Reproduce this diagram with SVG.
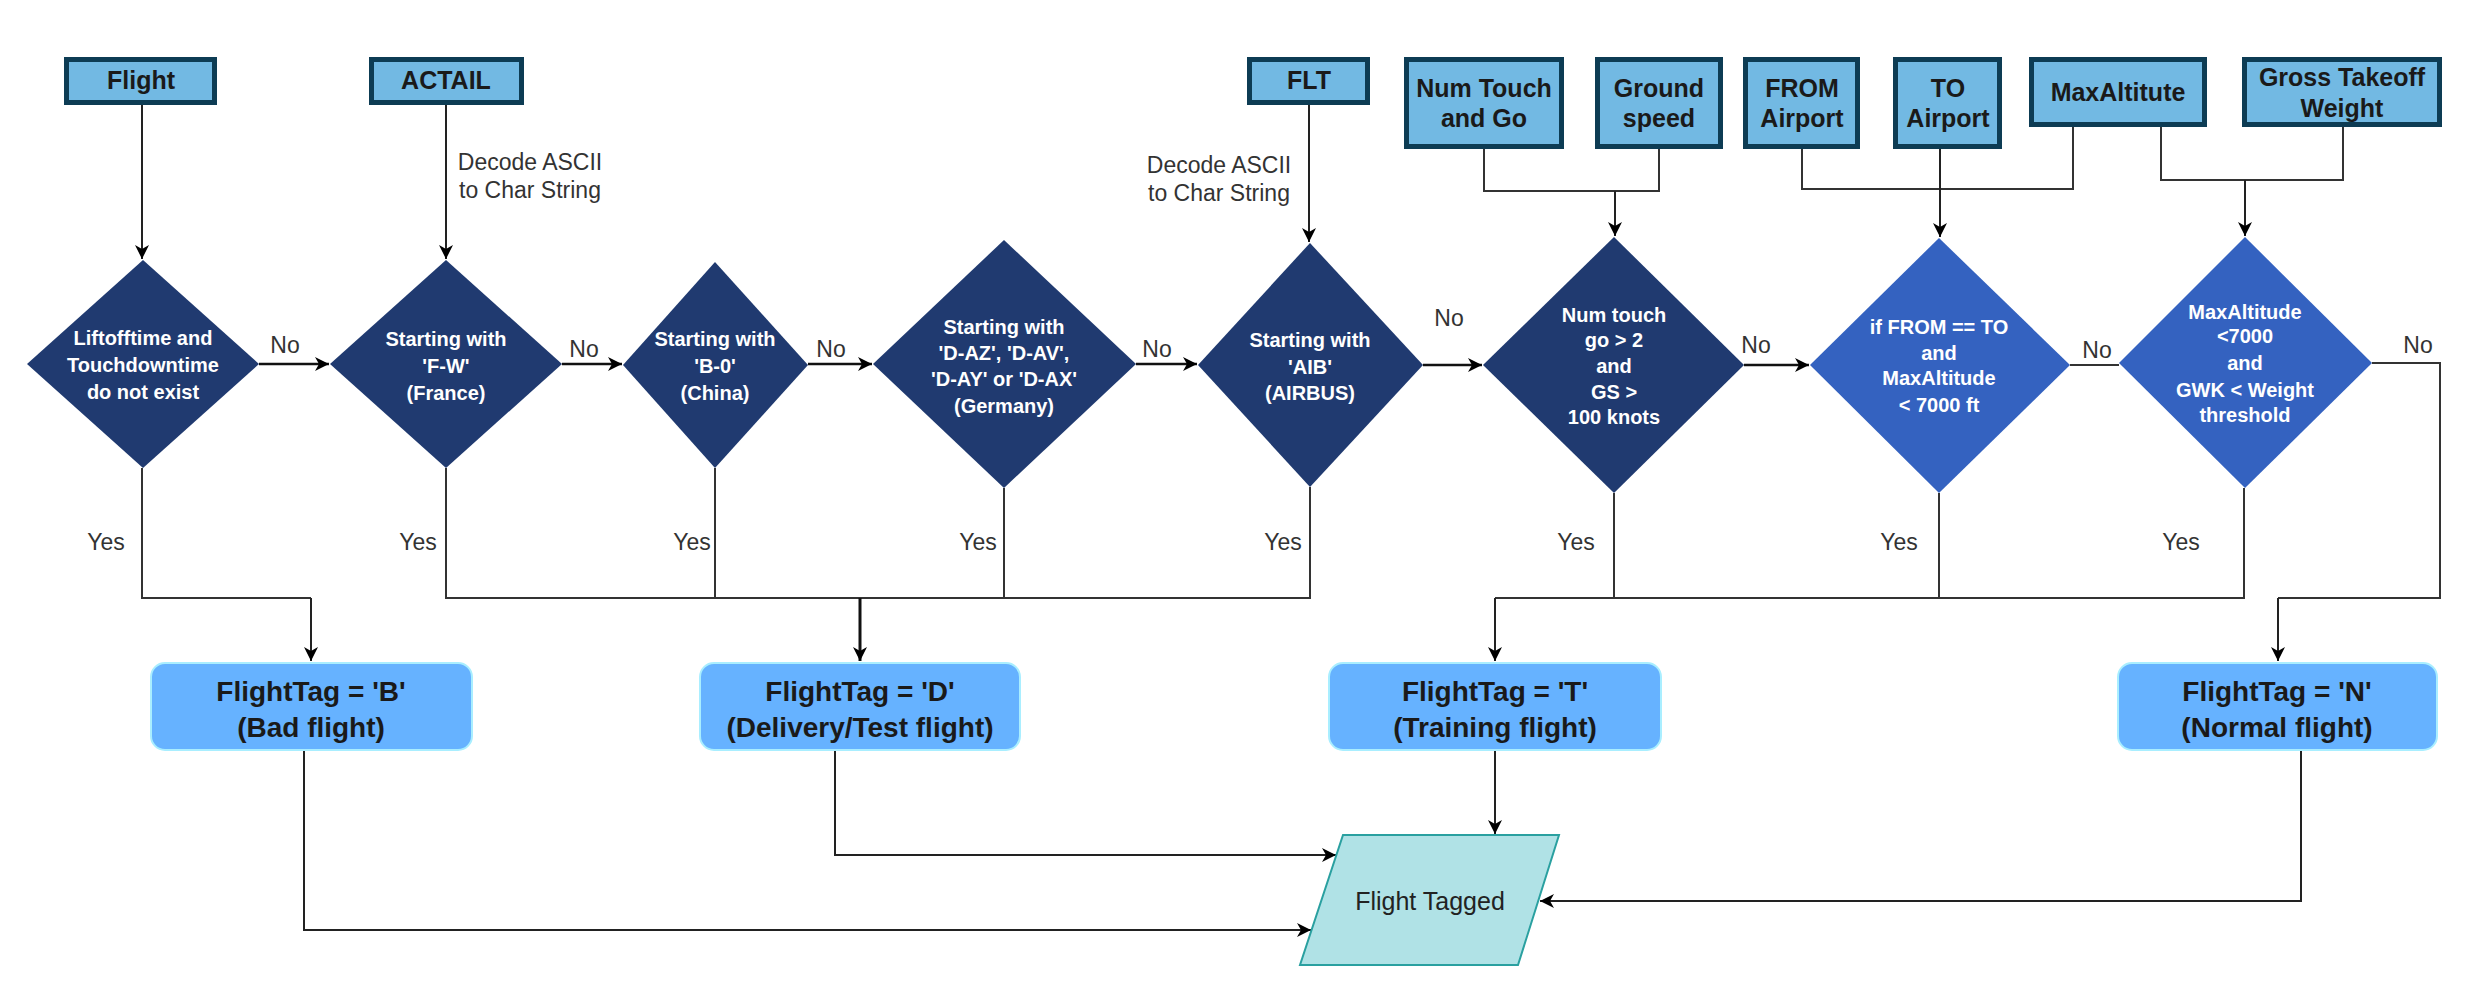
<svg xmlns="http://www.w3.org/2000/svg" width="2482" height="992" viewBox="0 0 2482 992">
<defs>
<marker id="arr" markerUnits="userSpaceOnUse" markerWidth="16" markerHeight="14" refX="14" refY="7" orient="auto">
<path d="M0,0 L14,7 L0,14 L4,7 z" fill="#000"/>
</marker>
<style>
.in rect{fill:#72b9e3;stroke:#0d3c54;stroke-width:5}
.in text{font-family:"Liberation Sans",Arial,sans-serif;font-weight:bold;font-size:25px;fill:#1a1a1a;text-anchor:middle}
.dk polygon{fill:#203a70}
.lt polygon{fill:#3462c0}
.dm text{font-family:"Liberation Sans",Arial,sans-serif;font-weight:bold;font-size:20px;fill:#ffffff;text-anchor:middle}
.out rect{fill:#66b2ff;stroke:#a9eeff;stroke-width:2}
.out text{font-family:"Liberation Sans",Arial,sans-serif;font-weight:bold;font-size:28px;fill:#1a1a1a;text-anchor:middle}
.lbl{font-family:"Liberation Sans",Arial,sans-serif;font-size:23px;fill:#333333;text-anchor:middle}
.c{fill:none;stroke:#333333;stroke-width:2}
.ca{fill:none;stroke:#222222;stroke-width:2;marker-end:url(#arr)}
.ch{fill:none;stroke:#111111;stroke-width:2.5;marker-end:url(#arr)}
.cn{fill:none;stroke:#111111;stroke-width:3;marker-end:url(#arr)}
.pg polygon{fill:#b0e2e6;stroke:#2aa0a0;stroke-width:2}
.pg text{font-family:"Liberation Sans",Arial,sans-serif;font-size:25px;fill:#222222;text-anchor:middle}
</style>
</defs>
<rect x="0" y="0" width="2482" height="992" fill="#ffffff"/>

<g id="connectors">
<path class="ca" d="M142,105 V259"/>
<path class="ca" d="M446,105 V259"/>
<path class="ca" d="M1309,105 V242"/>
<path class="c" d="M1484,149 V191 H1659 V149"/>
<path class="ca" d="M1615,191 V236"/>
<path class="c" d="M1802,149 V189 H2073 V127"/>
<path class="ca" d="M1940,149 V237"/>
<path class="c" d="M2161,127 V180 H2343 V127"/>
<path class="ca" d="M2245,180 V236"/>
<path class="ch" d="M259,364 H329"/>
<path class="ch" d="M562,364 H622"/>
<path class="ch" d="M808,364 H872"/>
<path class="ch" d="M1136,364 H1197"/>
<path class="ch" d="M1423,365 H1482"/>
<path class="ch" d="M1744,365 H1809"/>
<path class="c" d="M2070,365 H2119"/>
<path class="c" d="M2372,363 H2440 V598 H2278"/>
<path class="ca" d="M2278,598 V661"/>
<path class="c" d="M142,468 V598 H311"/>
<path class="ca" d="M311,598 V661"/>
<path class="c" d="M446,468 V598 H1310 V487"/>
<path class="c" d="M715,468 V598"/>
<path class="c" d="M1004,488 V598"/>
<path class="cn" d="M860,598 V661"/>
<path class="c" d="M1614,493 V598"/>
<path class="c" d="M1495,598 H2244 V488"/>
<path class="c" d="M1939,493 V598"/>
<path class="ca" d="M1495,598 V661"/>
<path class="ca" d="M304,750 V930 H1311"/>
<path class="ca" d="M835,750 V855 H1336"/>
<path class="ca" d="M1495,750 V834"/>
<path class="ca" d="M2301,750 V901 H1540"/>
</g>

<g id="labels">
<text class="lbl" x="530" y="170">Decode ASCII</text>
<text class="lbl" x="530" y="198">to Char String</text>
<text class="lbl" x="1219" y="173">Decode ASCII</text>
<text class="lbl" x="1219" y="201">to Char String</text>
<text class="lbl" x="285" y="353">No</text>
<text class="lbl" x="584" y="357">No</text>
<text class="lbl" x="831" y="357">No</text>
<text class="lbl" x="1157" y="357">No</text>
<text class="lbl" x="1449" y="326">No</text>
<text class="lbl" x="1756" y="353">No</text>
<text class="lbl" x="2097" y="358">No</text>
<text class="lbl" x="2418" y="353">No</text>
<text class="lbl" x="106" y="550">Yes</text>
<text class="lbl" x="418" y="550">Yes</text>
<text class="lbl" x="692" y="550">Yes</text>
<text class="lbl" x="978" y="550">Yes</text>
<text class="lbl" x="1283" y="550">Yes</text>
<text class="lbl" x="1576" y="550">Yes</text>
<text class="lbl" x="1899" y="550">Yes</text>
<text class="lbl" x="2181" y="550">Yes</text>
</g>

<g id="in-flight" class="in"><rect x="66.5" y="59.5" width="148" height="43"/><text x="141" y="89">Flight</text></g>
<g id="in-actail" class="in"><rect x="371.5" y="59.5" width="150" height="43"/><text x="446" y="89">ACTAIL</text></g>
<g id="in-flt" class="in"><rect x="1249.5" y="59.5" width="118" height="43"/><text x="1309" y="89">FLT</text></g>
<g id="in-numtouch" class="in"><rect x="1406.5" y="59.5" width="155" height="87"/><text x="1484" y="97">Num Touch</text><text x="1484" y="127">and Go</text></g>
<g id="in-ground" class="in"><rect x="1597.5" y="59.5" width="123" height="87"/><text x="1659" y="97">Ground</text><text x="1659" y="127">speed</text></g>
<g id="in-from" class="in"><rect x="1745.5" y="59.5" width="112" height="87"/><text x="1802" y="97">FROM</text><text x="1802" y="127">Airport</text></g>
<g id="in-to" class="in"><rect x="1895.5" y="59.5" width="104" height="87"/><text x="1948" y="97">TO</text><text x="1948" y="127">Airport</text></g>
<g id="in-maxalt" class="in"><rect x="2031.5" y="59.5" width="173" height="65"/><text x="2118" y="101">MaxAltitute</text></g>
<g id="in-gtow" class="in"><rect x="2244.5" y="59.5" width="195" height="65"/><text x="2342" y="86">Gross Takeoff</text><text x="2342" y="117">Weight</text></g>

<g id="d1" class="dm dk"><polygon points="143,260 259,364 143,468 27,364"/><text x="143" y="345">Liftofftime and</text><text x="143" y="372">Touchdowntime</text><text x="143" y="399">do not exist</text></g>
<g id="d2" class="dm dk"><polygon points="446,260 562,364 446,468 330,364"/><text x="446" y="346">Starting with</text><text x="446" y="373">'F-W'</text><text x="446" y="400">(France)</text></g>
<g id="d3" class="dm dk"><polygon points="715,262 808,365 715,468 623,365"/><text x="715" y="346">Starting with</text><text x="715" y="373">'B-0'</text><text x="715" y="400">(China)</text></g>
<g id="d4" class="dm dk"><polygon points="1004,240 1136,364 1004,488 873,364"/><text x="1004" y="334">Starting with</text><text x="1004" y="360">'D-AZ', 'D-AV',</text><text x="1004" y="386">'D-AY' or 'D-AX'</text><text x="1004" y="413">(Germany)</text></g>
<g id="d5" class="dm dk"><polygon points="1310,243 1423,365 1310,487 1198,365"/><text x="1310" y="347">Starting with</text><text x="1310" y="374">'AIB'</text><text x="1310" y="400">(AIRBUS)</text></g>
<g id="d6" class="dm dk"><polygon points="1614,237 1744,365 1614,493 1483,365"/><text x="1614" y="322">Num touch</text><text x="1614" y="347">go &gt; 2</text><text x="1614" y="373">and</text><text x="1614" y="399">GS &gt;</text><text x="1614" y="424">100 knots</text></g>
<g id="d7" class="dm lt"><polygon points="1939,238 2070,365 1939,493 1810,365"/><text x="1939" y="334">if FROM == TO</text><text x="1939" y="360">and</text><text x="1939" y="385">MaxAltitude</text><text x="1939" y="412">&lt; 7000 ft</text></g>
<g id="d8" class="dm lt"><polygon points="2245,237 2372,363 2245,488 2119,363"/><text x="2245" y="319">MaxAltitude</text><text x="2245" y="343">&lt;7000</text><text x="2245" y="370">and</text><text x="2245" y="397">GWK &lt; Weight</text><text x="2245" y="422">threshold</text></g>

<g id="out-b" class="out"><rect x="151" y="663" width="321" height="87" rx="14"/><text x="311" y="701">FlightTag = 'B'</text><text x="311" y="737">(Bad flight)</text></g>
<g id="out-d" class="out"><rect x="700" y="663" width="320" height="87" rx="14"/><text x="860" y="701">FlightTag = 'D'</text><text x="860" y="737">(Delivery/Test flight)</text></g>
<g id="out-t" class="out"><rect x="1329" y="663" width="332" height="87" rx="14"/><text x="1495" y="701">FlightTag = 'T'</text><text x="1495" y="737">(Training flight)</text></g>
<g id="out-n" class="out"><rect x="2118" y="663" width="319" height="87" rx="14"/><text x="2277" y="701">FlightTag = 'N'</text><text x="2277" y="737">(Normal flight)</text></g>

<g id="flight-tagged" class="pg"><polygon points="1343,835 1559,835 1518,965 1300,965"/><text x="1430" y="910">Flight Tagged</text></g>
</svg>
